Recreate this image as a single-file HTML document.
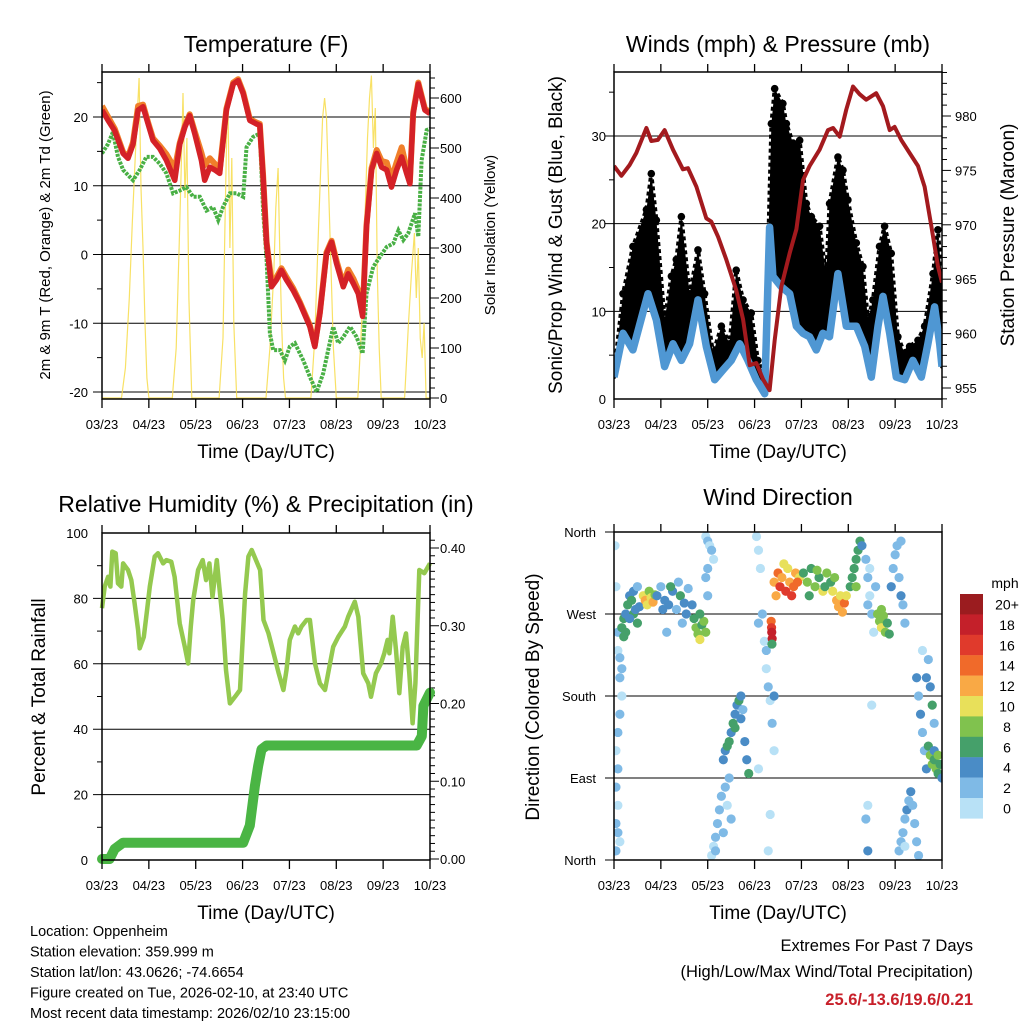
<!DOCTYPE html>
<html><head><meta charset="utf-8">
<style>
html,body{margin:0;padding:0;background:#fff;}
svg{display:block;font-family:"Liberation Sans",sans-serif;}
</style></head>
<body>
<svg id="chart" width="1024" height="1024" viewBox="0 0 1024 1024"></svg>
<script>
// ---------- DATA ----------
const xTickLabels = ["03/23","04/23","05/23","06/23","07/23","08/23","09/23","10/23"];
// Temperature (hours since start, degF)
const tempHours = [0,3.1,6.5,10.8,13.3,15.9,18.5,21,23.6,26.1,29.6,33,37.3,39.8,42.4,44.9,47.5,50.9,52.6,55.2,57.8,60.3,63.7,67.2,69.7,72.3,75.7,79.1,80.8,82.5,84.3,86.8,89.4,91.9,94.5,97.9,101.3,106.5,109,111.6,115,117.6,120.1,123.6,126.1,128.7,131.3,133.5,135.5,138.1,140.7,143.2,145.8,148.3,150.9,153.5,156,157.7,159.4,162,163.7,165.4,168];
const tempRed = [21,19.5,18,14.7,14,16,21,21.5,19,16.6,15.4,13.7,10.8,16,18.5,20.2,17.6,13.7,10.8,12.7,12.3,11.8,21,24.8,25.3,23.4,19.5,19,18.8,11.3,1.6,-4.7,-3.7,-2.3,-3.7,-5.2,-7.1,-10.5,-13.4,-8.6,0.1,1.8,-1.3,-4.7,-2.8,-4.2,-5.7,-9,4,12.3,14.7,12.7,12.3,9.8,12.3,14.2,11.8,10.3,20.5,24.8,22.9,21,20.5];
const tempOrange = [21.6,20,18.3,14.9,14.2,16.3,21.6,21.8,19.2,16.9,15.8,14.6,12.5,16.2,18.7,20.4,17.9,14.8,13,14,13.2,12.3,21.2,25,25.5,23.6,19.7,19.2,19,11.5,1.8,-4,-3.3,-2,-3.3,-4.9,-6.9,-10.3,-13.2,-8.4,0.3,2,-0.9,-4.3,-2.2,-3.5,-5.2,-8.5,4.3,12.6,15.2,13.6,13.4,11,13.4,15.6,12.5,10.6,20.7,25,23.1,21.2,20.7];
const dewHours = [0,3.1,5.6,8.2,10.8,15.9,19.3,22.7,26.1,29.6,33,36.4,39.8,43.2,46.7,50.1,53.5,56.9,59.5,62,65.5,68.9,72.3,74,77.4,80.8,82.5,84.3,86,87.7,91.1,93.7,96.2,98.8,103.1,106.5,109.9,113.3,118.4,121,123.6,127,130.4,133.5,135.5,138.9,142.4,145.8,149.2,151.8,154.3,156.9,160.3,162,163.7,166.3,168];
const dewValues = [14.7,16.1,17.8,14.2,12.3,10.8,12.3,14.2,14.2,13.2,11.8,8.9,9.3,9.8,8.4,8.4,6.4,6.9,5,6.9,8.9,8.9,8.4,15.6,17.1,17.6,6.4,-0.8,-11.5,-13.9,-13.9,-15.4,-13.4,-12.9,-15.4,-17.8,-20,-17.3,-10.5,-12.9,-12,-10.5,-12,-14.4,-5.7,-1.8,-0.3,1.1,1.6,3.5,2.1,3.1,6,2.6,13.7,18.1,18.3];
const solarHours = [0,10,12,14,15.5,17,18,19,20,21,22,23,24,36,38,39.5,40.5,41.5,42.5,43.5,44.5,46,60,62,63,64,64.5,65.5,66.5,67.5,69,84,86,88,89,90.2,91,92,93,94,107,109,111,113,114,115,117,118.5,120,131,133,135,136,137,138,139,140,141,142,143,155,157,158.5,160,161,162,163,164,165,166,168];
const solarValues = [0,0,60,200,350,480,560,640,420,300,150,40,0,0,100,300,450,610,400,520,200,0,0,120,350,560,600,300,480,150,0,0,100,250,380,460,300,150,40,0,0,120,350,560,600,560,300,100,0,0,150,400,520,600,645,500,580,250,100,0,0,150,250,330,200,300,120,80,150,0,0];
// Winds & pressure
const pressHours = [0,3.8,8,11.4,16.6,19.1,22.5,25.9,30.2,35.3,37.9,42.2,47.3,49.8,53.3,57.5,62.6,66.1,69.5,72.9,76.3,79.7,82.3,85.7,90,93.4,96.8,100.2,105.3,109.6,112.2,115.6,119,122.4,125.8,129.2,134.3,137.8,141.2,143.7,147.1,151.4,155.7,159.1,162.5,165.9,168];
const pressValues = [975.4,974.5,975.5,976.6,978.9,977.7,977.8,978.7,976.9,975.1,975.2,973.5,970.6,970.3,968.9,966.8,964,961.3,957.1,957.3,955.8,954.8,959.4,964.3,967.4,969.6,974.1,975.4,976.9,978.7,978.9,978.1,980.6,982.7,982,981.5,982.1,980.9,978.7,979,977.8,976.6,975.4,973.5,969.9,966.2,964.7];
const windHours = [0,4.6,9.7,17.4,21.7,25.9,30.2,34.5,38.7,43,47.3,51.6,55.8,60.1,64.4,68.6,72.9,77.2,79.7,81.4,85.7,90,93.4,96.8,100.2,103.6,107,110.4,114.7,119,124.1,128.4,131.8,135.2,137.8,141.2,144.6,148.9,153.1,157.4,160.8,164.2,166.8,168];
const windValues = [2.5,7.5,5.6,12,9,3.7,6.3,4.4,6.3,11.3,6,2.2,3.3,4.4,6.3,4.4,2.2,0.6,19.6,14,12.8,12,8.3,7.5,7.1,5.6,7.5,7.1,14.3,8.3,8.3,6,2.5,8.3,11.7,7.5,2.5,2.2,4.4,2.5,6.3,10.5,6.3,3.7];
const gustHours = [0,4.6,9.7,16.6,19.1,21.7,25.9,29.4,31.9,34.5,38.7,43,46.4,50.7,55,59.2,62.6,66.1,70.3,73.7,77.2,80.6,82.3,86.5,88.3,91.7,95.1,98.5,101.1,105.3,108.7,110.4,114.7,117.3,119.8,124.1,127.5,130.1,132.6,136,138.6,142,145.4,148.9,151.4,155.7,159.1,163.4,165.9,168];
const gustValues = [2.9,12,17.4,21.6,25.7,20.4,9,14,15.9,20.8,12,17,12,5.2,8.3,6.3,14.7,11.3,9.8,4.4,2.5,31.4,35.4,33.7,31.4,29.2,29.5,22.3,20.8,19.7,14,22.3,27.6,26.1,22.7,17.8,15.1,9,11.3,17.4,19.7,16.6,7.1,5.2,6,6.7,8.3,14.3,19.3,13.6];
// RH & precip
const rhHours = [0,1.4,3.1,4.3,5.3,7,8.2,9.9,10.8,13.3,15,16.7,18.5,19.3,21.4,23.1,24.5,27,28.7,31.3,33,35.5,37.2,39.8,42.4,44.1,45.5,46.7,49.2,51.6,53.3,55,56.6,58.8,60.1,61.8,63.5,65.5,68.1,70.7,73.3,75,76.7,81,82.7,85.3,87.9,90.5,92.9,94.5,96.2,98.8,100.5,102.2,104.8,106.5,109.1,111.6,114.2,116.8,118.4,121,124.4,126.1,129.5,131.3,133.8,136.4,137.8,140.3,142.9,144.6,146.3,147.2,148.9,150.6,152.3,154,155.7,157.4,159.1,160.5,162.5,165.1,168];
const rhValues = [77,83.6,86.6,83.6,94.3,93.8,84.6,83.6,90.7,88.7,85.6,78.5,70.3,64.7,68.2,76.5,83.6,92.8,93.8,90.7,91.7,91.2,86.6,72.4,65.2,60.1,71.4,79.5,88.7,91.7,85.6,90.7,80.5,91.7,83.6,73.4,58.1,47.9,49.9,52,81.5,92.8,94.8,88.7,73.4,69.3,63.2,57.1,52,58.1,67.3,71.4,69.3,71.4,73.4,73.4,60.1,54,52,60.1,65.2,68.2,71.4,74.4,79,74.4,57.1,54,49.9,57.1,60.1,63.2,67.3,63.2,74.4,64.2,51,65.2,69.3,57.1,41.8,54,88.7,87.7,90.7];
const precipHours = [0,3.9,6.5,10.8,72.3,75.7,78.3,80,81.7,84.3,161.2,163.8,164.6,168];
const precipValues = [0,0,0.013,0.021,0.021,0.043,0.094,0.12,0.141,0.146,0.146,0.158,0.197,0.214];
// Wind direction scatter (hours, degrees, mph)
const dirHours = [1,2,2,3,4,3,2,1,2,1,2,1,2,3,1,3,4,0.5,
 4,5,6,7,8,9,10,11,12,13,6,8,10,12,5,
 15,16,17,18,19,20,21,
 22,24,26,28,30,32,34,36,38,40,25,29,33,37,27,35,
 41,42,43,44,45,46,47,44,
 47,48,49,50,51,48,47,48,
 50,51,52,53,54,55,57,59,52,56,58,60,
 56,57,58,60,61,62,63,64,65,66,67,68,69,59,62,65,
 73,74,75,76,77,78,79,80,81,82,74,78,80,79,82,74,
 80.5,80.7,80.8,81,80.9,
 82,84,85,86,88,89,90,92,93,95,83,87,91,94,
 97,99,101,103,105,107,109,111,113,100,104,108,112,
 114,115,116,117,118,119,
 121,122,123,124,125,126,127,124,
 129,130,131,132,133,134,131,130,
 135,136,137,138,139,140,141,137,
 142,143,144,145,146,147,148,149,147,
 146,147,148,149,150,151,152,153,154,155,156,149,
 155,156,157,158,159,160,161,162,163,164,158,160,
 161,162,163,164,165,166,167,168,164,166,
 132,130,130,129];
const dirDegrees = [300,250,230,200,180,160,140,120,100,80,60,40,30,20,10,222,210,345,
 255,265,270,280,290,285,270,275,260,278,250,265,295,300,245,
 290,285,280,295,288,283,291,
 290,300,285,280,295,275,290,282,298,280,275,300,305,270,250,260,
 265,255,248,242,258,262,250,270,
 355,350,345,340,330,320,310,290,
 5,15,25,40,55,70,80,90,10,30,60,45,
 110,120,125,140,150,160,170,175,180,165,130,110,95,130,145,155,
 355,340,320,270,240,210,190,175,150,120,260,230,50,10,180,100,
 262,255,250,243,237,
 305,315,300,310,295,320,305,300,315,310,290,325,290,305,
 315,305,320,300,310,295,315,305,310,290,318,300,295,
 285,278,290,272,282,290,
 300,310,320,330,340,350,345,300,
 330,310,290,270,250,300,320,280,
 270,262,255,268,250,260,248,275,
 300,320,335,345,310,290,280,260,350,
 10,20,30,45,55,65,75,60,40,20,5,15,
 200,180,160,140,120,100,220,190,170,150,230,200,
 125,115,105,110,100,95,105,90,120,115,
 170,10,60,45];
const dirSpeeds = [1,2,1,2,1,2,2,1,2,2,1,3,2,1,2,3,2,1,
 6,7,5,6,4,7,6,5,7,4,7,5,5,3,6,
 10,12,11,9,10,12,9,
 4,3,5,4,4,3,6,5,3,4,5,6,3,5,2,3,
 7,8,9,10,7,8,9,6,
 1,2,1,2,1,2,3,2,
 1,1,2,3,3,2,3,2,2,2,1,2,
 4,5,6,4,7,5,4,6,4,3,5,4,7,7,6,5,
 1,1,1,2,1,1,2,1,2,1,3,3,1,1,5,1,
 14,16,18,18,7,
 12,14,16,12,17,11,13,15,12,11,12,10,17,14,
 7,8,6,9,7,10,8,6,9,7,8,6,10,
 12,13,11,12,14,10,
 7,6,7,6,6,7,5,8,
 2,3,1,2,1,3,1,2,
 8,9,10,8,9,7,6,8,
 4,3,2,2,3,4,3,2,2,
 2,2,3,2,4,3,4,2,3,2,2,1,
 4,3,4,3,2,4,2,5,6,3,1,4,
 7,8,9,7,8,6,7,5,5,9,
 1,4,1,2];
const speedBinLabels = ["20+","18","16","14","12","10","8","6","4","2","0"];
const speedBinColors = ["#9b1c1f","#c4202a","#e03a2c","#f06a2a","#f9a945","#e8e05a","#80c24e","#45a06a","#4a8cc6","#7fbae6","#b8e1f6"];

// ---------- HELPERS ----------
const NS = "http://www.w3.org/2000/svg";
const svg = document.getElementById("chart");
function el(tag, attrs, parent, txt){
  const e = document.createElementNS(NS, tag);
  for (const k in attrs) e.setAttribute(k, attrs[k]);
  if (txt !== undefined) e.textContent = txt;
  (parent || svg).appendChild(e);
  return e;
}
function lin(d0,d1,r0,r1){ return v => r0 + (v-d0)*(r1-r0)/(d1-d0); }
function pathD(xs, ys, fx, fy){
  return xs.map((h,i)=>(i?"L":"M")+fx(h).toFixed(1)+","+fy(ys[i]).toFixed(1)).join("");
}
function text(x,y,s,size,anchor,parent,name,extra){
  const t = el("text",Object.assign({x:x,y:y,"font-size":size,"text-anchor":anchor||"middle",fill:"#000"},extra||{}),parent,s);
  
  
  return t;
}
function frame(g, L, R, T, B, xs){
  for (let i=0;i<xTickLabels.length;i++){
    const x = xs(i*24);
    el("line",{x1:x,y1:T,x2:x,y2:T-8,stroke:"#000","stroke-width":1.3},g);
    el("line",{x1:x,y1:B,x2:x,y2:B+9,stroke:"#000","stroke-width":1.3},g);
    text(x,B+30,xTickLabels[i],13,"middle",g,"x-tick-label");
  }
  const r = el("rect",{x:L,y:T,width:R-L,height:B-T,fill:"none",stroke:"#000","stroke-width":1.5},g);
  
  
  text((L+R)/2,B+59,"Time (Day/UTC)",19,"middle",g,"x-axis-title");
}
function rotText(x,y,s,size,g,name){
  const t = el("text",{x:0,y:0,"font-size":size,"text-anchor":"middle",transform:`translate(${x},${y}) rotate(-90)`,fill:"#000"},g,s);
  
  
}
function gridY(g,L,R,y,ext){
  el("line",{x1:L-ext,y1:y,x2:R,y2:y,stroke:"#000","stroke-width":1},g);
}

// ================= PANEL 1: Temperature =================
(function(){
  const L=102,R=430,T=72,B=399;
  const g = el("g",{});  
  const xs = lin(0,168,L,R);
  const ys = lin(20,-20,117,392);
  const yr = lin(0,600,398,98);
  text(266,52,"Temperature (F)",23,"middle",g,"temperature-title");
  [20,10,0,-10,-20].forEach(v=>{ gridY(g,L,R,ys(v),9); text(88,ys(v)+5,String(v),13,"end",g,"y-tick-label"); });
  for (let v=-20; v<=25; v+=5){ if (v%10) el("line",{x1:L,y1:ys(v),x2:L-5,y2:ys(v),stroke:"#000"},g); }
  for (let v=0; v<=640; v+=20){ const y=yr(v); if(y<T) continue; el("line",{x1:R,y1:y,x2:R+(v%100?5:9),y2:y,stroke:"#000"},g); }
  [0,100,200,300,400,500,600].forEach(v=>text(440,yr(v)+5,String(v),13,"start",g,"right-tick-label"));
  const cp = el("clipPath",{id:"c1"},g); el("rect",{x:L,y:T,width:R-L,height:B-T},cp);
  const pg = el("g",{"clip-path":"url(#c1)"},g);
  const s = el("path",{d:pathD(solarHours,solarValues,xs,yr),fill:"none",stroke:"#f7dc4a","stroke-width":1.2,opacity:0.85},pg);
   
  const d = el("path",{d:pathD(dewHours,dewValues,xs,ys),fill:"none",stroke:"#49b045","stroke-width":4,"stroke-dasharray":"3 1.2"},pg);
   
  const o = el("path",{d:pathD(tempHours,tempOrange,xs,ys),fill:"none",stroke:"#f07f2a","stroke-width":6,"stroke-linejoin":"round"},pg);
   
  const r = el("path",{d:pathD(tempHours,tempRed,xs,ys),fill:"none",stroke:"#d42127","stroke-width":5.5,"stroke-linejoin":"round"},pg);
   
  frame(g,L,R,T,B,xs);
  rotText(50,235,"2m & 9m T (Red, Orange) & 2m Td (Green)",15,g,"left-y-axis-title");
  rotText(495,235,"Solar Insolation (Yellow)",15,g,"right-y-axis-title");
})();

// ================= PANEL 2: Winds & Pressure =================
(function(){
  const L=614,R=942,T=72,B=399;
  const g = el("g",{});  
  const xs = lin(0,168,L,R);
  const ys = lin(0,30,399,136);
  const yp = lin(955,980,388,116);
  text(778,52,"Winds (mph) & Pressure (mb)",23,"middle",g,"winds-title");
  [0,10,20,30].forEach(v=>{ if(v) gridY(g,L,R,ys(v),9); text(606,ys(v)+5,String(v),13,"end",g,"y-tick-label"); });
  for (let v=5; v<=35; v+=10) el("line",{x1:L,y1:ys(v),x2:L-5,y2:ys(v),stroke:"#000"},g);
  for (let p=954; p<=984; p++){ el("line",{x1:R,y1:yp(p),x2:R+(p%5?5:9),y2:yp(p),stroke:"#000"},g); }
  [955,960,965,970,975,980].forEach(v=>text(955,yp(v)+5,String(v),13,"start",g,"right-tick-label"));
  const cp = el("clipPath",{id:"c2"},g); el("rect",{x:L,y:T,width:R-L,height:B-T},cp);
  const pg = el("g",{"clip-path":"url(#c2)"},g);
  let dBand = gustHours.map((h,i)=>(i?"L":"M")+xs(h).toFixed(1)+","+ys(gustValues[i]).toFixed(1)).join("");
  for (let i=windHours.length-1;i>=0;i--) dBand += "L"+xs(windHours[i]).toFixed(1)+","+ys(windValues[i]).toFixed(1);
  const band = el("path",{d:dBand+"Z",fill:"#000",stroke:"#000","stroke-width":4,"stroke-linejoin":"round","stroke-dasharray":"4 3"},pg);
   
  gustHours.forEach((h,i)=>{
    const c = el("circle",{cx:xs(h),cy:ys(gustValues[i]),r:3.8,fill:"#000"},pg);
    
    
  });
  const w = el("path",{d:pathD(windHours,windValues,xs,ys),fill:"none",stroke:"#4f97d3","stroke-width":7.5,"stroke-linejoin":"round"},pg);
   
  const p = el("path",{d:pathD(pressHours,pressValues,xs,yp),fill:"none",stroke:"#a31a1e","stroke-width":4,"stroke-linejoin":"round"},pg);
   
  frame(g,L,R,T,B,xs);
  rotText(562,235,"Sonic/Prop Wind & Gust (Blue, Black)",19,g,"left-y-axis-title");
  rotText(1014,235,"Station Pressure (Maroon)",19,g,"right-y-axis-title");
})();

// ================= PANEL 3: RH & Precip =================
(function(){
  const L=102,R=430,T=533,B=860;
  const g = el("g",{});  
  const xs = lin(0,168,L,R);
  const ys = lin(0,100,860,533);
  const yp = lin(0,0.4,859,548);
  text(266,512,"Relative Humidity (%) & Precipitation (in)",23,"middle",g,"humidity-title");
  [0,20,40,60,80,100].forEach(v=>{ if(v&&v<100) gridY(g,L,R,ys(v),9); text(88,ys(v)+5,String(v),13,"end",g,"y-tick-label"); });
  for (let v=10; v<=90; v+=20) el("line",{x1:L,y1:ys(v),x2:L-5,y2:ys(v),stroke:"#000"},g);
  for (let i=0;i<=41;i++){ const v=i/100; const y=yp(v); if(y<T) continue; el("line",{x1:R,y1:y,x2:R+(i%10?5:9),y2:y,stroke:"#000"},g); }
  [0,0.1,0.2,0.3,0.4].forEach(v=>text(440,yp(v)+5,v.toFixed(2),13,"start",g,"right-tick-label"));
  const cp = el("clipPath",{id:"c3"},g); el("rect",{x:L-6,y:T,width:R-L+12,height:B-T+6},cp);
  const pg = el("g",{"clip-path":"url(#c3)"},g);
  const rh = el("path",{d:pathD(rhHours,rhValues,xs,ys),fill:"none",stroke:"#94c94f","stroke-width":4.5,"stroke-linejoin":"round"},pg);
   
  const pr = el("path",{d:pathD(precipHours,precipValues,xs,yp),fill:"none",stroke:"#4ab544","stroke-width":10,"stroke-linejoin":"round","stroke-linecap":"round"},pg);
   
  frame(g,L,R,T,B,xs);
  rotText(45,697,"Percent & Total Rainfall",19,g,"left-y-axis-title");
})();

// ================= PANEL 4: Wind Direction =================
(function(){
  const L=614,R=942,T=532,B=860;
  const g = el("g",{});  
  const xs = lin(0,168,L,R);
  const ys = lin(0,360,860,532);
  text(778,505,"Wind Direction",23,"middle",g,"wind-direction-title");
  const names = ["North","East","South","West","North"];
  [0,90,180,270,360].forEach((v,i)=>{ if(v>0&&v<360) gridY(g,L,R,ys(v),9); text(596,ys(v)+5,names[i],13,"end",g,"y-tick-label"); });
  el("line",{x1:L-9,y1:T,x2:L,y2:T,stroke:"#000"},g);
  el("line",{x1:L-9,y1:B,x2:L,y2:B,stroke:"#000"},g);
  function colorFor(s){ const bin=Math.min(10,Math.floor(s/2)); return speedBinColors[10-bin]; }
  const cp = el("clipPath",{id:"c4"},g); el("rect",{x:L,y:T,width:R-L,height:B-T},cp);
  const pg = el("g",{"clip-path":"url(#c4)"},g);
  dirHours.forEach((h,i)=>{
    const c = el("circle",{cx:xs(h),cy:ys(dirDegrees[i]),r:4.6,fill:colorFor(dirSpeeds[i])},pg);
    
    
  });
  frame(g,L,R,T,B,xs);
  rotText(539,697,"Direction (Colored By Speed)",19,g,"left-y-axis-title");
  const cb = el("g",{});  
  text(1005,588,"mph",14,"middle",cb,"colorbar-unit");
  speedBinColors.forEach((c,i)=>{
    const rr = el("rect",{x:960,y:594+i*20.4,width:23,height:20.6,fill:c},cb);
    
    
    text(1007,594+i*20.4+15.5,speedBinLabels[i],14,"middle",cb,"colorbar-label");
  });
})();

// ================= FOOTER =================
const footLeft = ["Location: Oppenheim","Station elevation: 359.999 m","Station lat/lon: 43.0626; -74.6654","Figure created on Tue, 2026-02-10, at 23:40 UTC","Most recent data timestamp: 2026/02/10 23:15:00"];
footLeft.forEach((s,i)=>text(30,936+i*20.5,s,14.5,"start",svg,"station-info-line"));
text(973,951,"Extremes For Past 7 Days",16.5,"end",svg,"extremes-title");
text(973,977,"(High/Low/Max Wind/Total Precipitation)",16.5,"end",svg,"extremes-subtitle");
text(973,1005,"25.6/-13.6/19.6/0.21",16.5,"end",svg,"extremes-values",{fill:"#c8202a","font-weight":"bold"});
</script>
</body></html>
